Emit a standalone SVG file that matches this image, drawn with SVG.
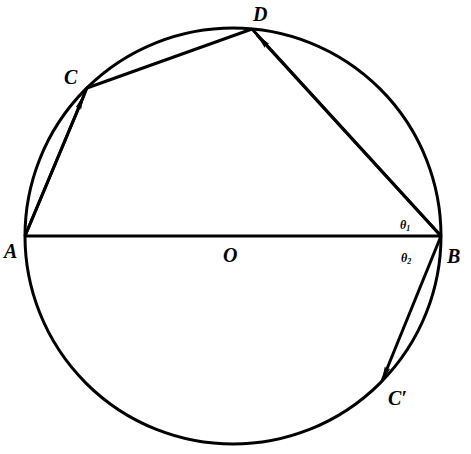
<svg xmlns="http://www.w3.org/2000/svg" width="471" height="454" viewBox="0 0 471 454">
<style>
.ln{stroke:#000;stroke-width:3;fill:none}
.lb{font-family:"Liberation Serif","Times New Roman",serif;font-style:italic;font-weight:bold;font-size:20px;fill:#000}
.th{font-family:"Liberation Serif","Times New Roman",serif;font-style:italic;font-weight:bold;font-size:12px;fill:#000}
</style>
<defs>
<marker id="ah" viewBox="0 0 16 6" refX="15" refY="3" markerWidth="16" markerHeight="6" markerUnits="userSpaceOnUse" orient="auto">
<path d="M0,0 L16,3 L0,6 L3,3 Z" fill="#000"/>
</marker>
</defs>
<g id="circle"><circle class="ln" cx="233" cy="236" r="208"/></g>
<g id="connectors">
<line class="ln" x1="25" y1="236" x2="441" y2="236"/>
<line class="ln" x1="25" y1="236" x2="87" y2="88"/>
<line class="ln" x1="25" y1="236" x2="84" y2="95" marker-end="url(#ah)"/>
<line class="ln" x1="87" y1="88" x2="252" y2="29"/>
<line class="ln" x1="441" y1="236" x2="252" y2="29"/>
<line class="ln" x1="441" y1="236" x2="257" y2="35" marker-end="url(#ah)"/>
<line class="ln" x1="441" y1="236" x2="382" y2="381" marker-end="url(#ah)"/>
</g>
<g id="A"><text class="lb" x="4" y="258">A</text></g>
<g id="B"><text class="lb" x="447" y="263">B</text></g>
<g id="C"><text class="lb" x="64" y="84">C</text></g>
<g id="D"><text class="lb" x="253" y="21">D</text></g>
<g id="O"><text class="lb" x="223" y="262">O</text></g>
<g id="Cp"><text class="lb" x="388" y="405">C′</text></g>
<g id="theta1"><text class="th" x="400" y="229">θ<tspan font-size="8" dy="2">1</tspan></text></g>
<g id="theta2"><text class="th" x="401" y="262">θ<tspan font-size="8" dy="2">2</tspan></text></g>
</svg>
